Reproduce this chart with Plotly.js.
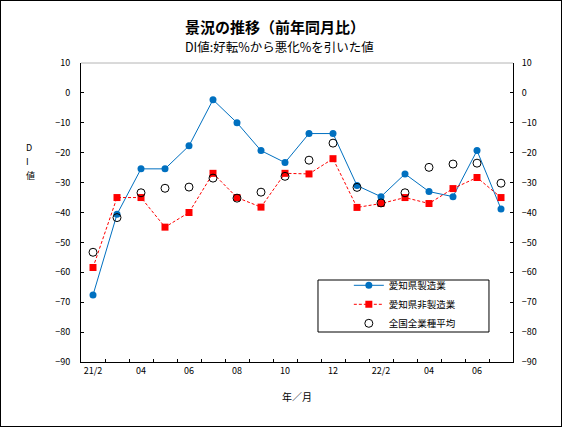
<!DOCTYPE html>
<html><head><meta charset="utf-8">
<script src="https://cdn.plot.ly/plotly-3.0.1.min.js"></script>
<style>html,body{margin:0;padding:0;background:#fff}#c{width:560px;height:425px;border:1px solid #000}</style>
</head><body><div id="c"></div>
<script>
const months = ['21/2','21/3','21/4','21/5','21/6','21/7','21/8','21/9','21/10','21/11','21/12','22/1','22/2','22/3','22/4','22/5','22/6','22/7'];
const tickLabels = ['21/2','','04','','06','','08','','10','','12','','22/2','','04','','06',''];
const mfg = [-67.6,-40.6,-25.4,-25.4,-17.7,-2.3,-10.0,-19.3,-23.3,-13.6,-13.6,-31.0,-34.7,-27.1,-33.0,-34.7,-19.3,-38.8];
const nonMfg = [-58.4,-35.0,-35.0,-44.9,-40.0,-26.9,-35.0,-38.2,-26.9,-27.1,-22.0,-38.3,-37.0,-35.0,-37.0,-32.0,-28.3,-35.0];
const national = [-53.3,-41.7,-33.4,-31.9,-31.5,-28.5,-35.2,-33.2,-27.9,-22.5,-16.8,-31.6,-36.8,-33.4,-24.9,-23.8,-23.5,-30.2];

const F = '"Noto Sans CJK JP", "DejaVu Sans", sans-serif';
const traces = [
  {x: months, y: mfg, name: '愛知県製造業', type: 'scatter', mode: 'lines+markers',
   line: {color: '#0070C0', width: 1}, marker: {symbol: 'circle', size: 7, color: '#0070C0'}},
  {x: months, y: nonMfg, name: '愛知県非製造業', type: 'scatter', mode: 'lines+markers',
   line: {color: '#FF0000', width: 1, dash: '3px,2px'}, marker: {symbol: 'square', size: 7, color: '#FF0000'}},
  {x: months, y: national, name: '全国全業種平均', type: 'scatter', mode: 'markers',
   marker: {symbol: 'circle-open', size: 8, color: '#000', line: {width: 1, color: '#000'}}},
  {x: months, y: national, yaxis: 'y2', showlegend: false, hoverinfo: 'skip', mode: 'markers',
   marker: {opacity: 0}, type: 'scatter'}
];
const layout = {
  width: 560, height: 425,
  margin: {l: 80, r: 48, t: 62, b: 64},
  paper_bgcolor: '#fff', plot_bgcolor: '#fff',
  font: {family: F, size: 9, color: '#000'},
  showlegend: true,
  legend: {x: 0.62, y: 0.305, xanchor: 'left', yanchor: 'top', bgcolor: 'rgba(0,0,0,0)',
    borderwidth: 0, font: {family: F, size: 9.5, color: '#000'},
    tracegroupgap: 0, itemwidth: 30},
  xaxis: {type: 'category', categoryorder: 'array', categoryarray: months,
    range: [-0.5, 17.5], tickvals: months, ticktext: tickLabels, tickangle: 0,
    tickson: 'boundaries', ticks: 'inside', ticklen: 3, tickcolor: '#000',
    showline: true, linecolor: '#000', linewidth: 1, showgrid: false, zeroline: false,
    tickfont: {family: F, size: 9},
    title: {text: '年／月', font: {family: F, size: 10}, standoff: 18}},
  yaxis: {range: [-90, 10], dtick: 10, ticks: 'inside', ticklen: 3, tickcolor: '#000',
    showline: true, linecolor: '#000', linewidth: 1, showgrid: false, zeroline: false,
    tickfont: {family: F, size: 9}, ticklabelstandoff: 8},
  yaxis2: {range: [-90, 10], dtick: 10, overlaying: 'y', side: 'right', ticks: 'inside', ticklen: 3,
    tickcolor: '#000', showline: true, linecolor: '#000', linewidth: 1, showgrid: false, zeroline: false,
    tickfont: {family: F, size: 9}, ticklabelstandoff: 6},
  shapes: [
    {type: 'line', xref: 'paper', yref: 'paper', x0: 0, x1: 1, y0: 1, y1: 1,
     line: {color: '#b4b4b4', width: 1}},
    {type: 'rect', xref: 'paper', yref: 'paper', x0: 0.5486, x1: 0.9444, y0: 0.1003, y1: 0.2742,
     layer: 'above', fillcolor: '#fff', line: {color: '#000', width: 1}}
  ],
  annotations: [
    {text: '<b>景況の推移（前年同月比）</b>', xref: 'paper', yref: 'paper', x: 0.45, y: 1.0, yanchor: 'middle', yshift: 37,
     borderpad: 0, showarrow: false, font: {family: F, size: 15}},
    {text: 'DI値:好転%から悪化%を引いた値', xref: 'paper', yref: 'paper', x: 0.46, y: 1.0, yanchor: 'middle', yshift: 17,
     borderpad: 0, showarrow: false, font: {family: F, size: 12.5}},
    {text: 'D', xref: 'paper', yref: 'paper', x: 0, xshift: -56, y: 0.719, yanchor: 'middle',
     borderpad: 0, showarrow: false, font: {family: F, size: 9}},
    {text: 'I', xref: 'paper', yref: 'paper', x: 0, xshift: -56, y: 0.672, yanchor: 'middle',
     borderpad: 0, showarrow: false, font: {family: F, size: 9}},
    {text: '値', xref: 'paper', yref: 'paper', x: 0, xshift: -56, y: 0.625, yanchor: 'middle',
     borderpad: 0, showarrow: false, font: {family: F, size: 9}}
  ]
};
Plotly.newPlot('c', traces, layout, {displayModeBar: false, staticPlot: true});
</script></body></html>
